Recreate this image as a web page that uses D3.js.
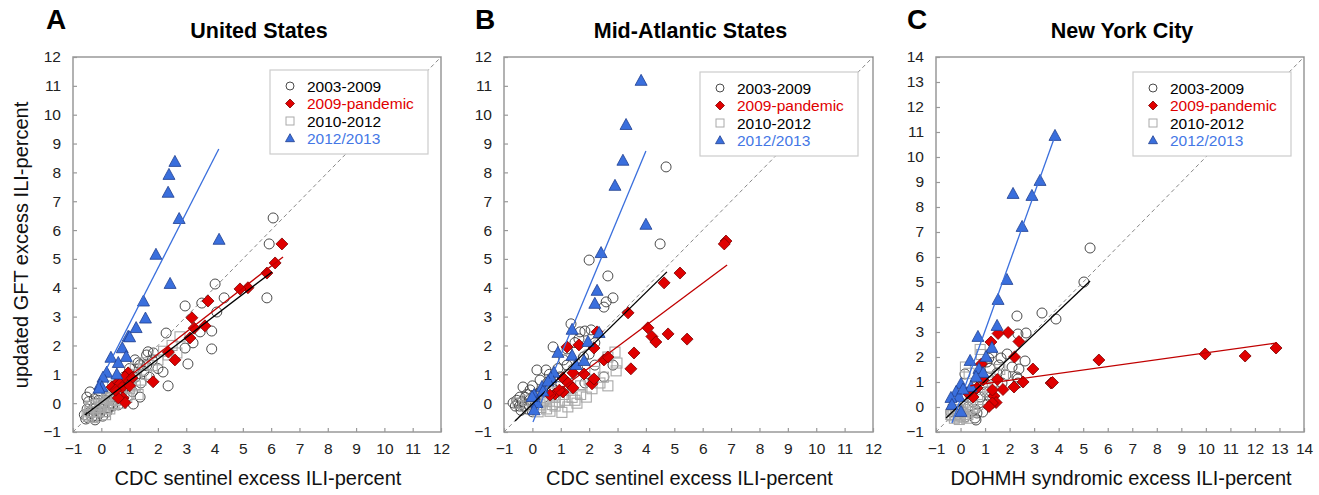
<!DOCTYPE html>
<html>
<head>
<meta charset="utf-8">
<script src="https://cdn.jsdelivr.net/npm/d3@7"></script>
<style>
  body { margin: 0; background: #fff; }
  svg text { font-family: Arial, "Liberation Sans", sans-serif; }
</style>
</head>
<body>
<svg id="chart" width="1319" height="495"></svg>
<script>
// Legendeneinträge
const seriesLabels = ["2003-2009", "2009-pandemic", "2010-2012", "2012/2013"];

// Panel A - United States
const usCircles = [[6.07,6.42],[5.93,5.52],[5.85,3.65],[4.02,4.13],[4.34,3.65],[4.08,3.16],[2.96,3.37],[3.55,3.47],[3.49,2.47],[3.9,2.5],[3.9,1.88],[3.24,2.09],[3.06,1.36],[2.96,1.91],[2.29,2.43],[2.36,0.6],[2.18,1.08],[1.6,1.67],[1.84,1.74],[1.65,1.78],[1.37,1.33],[1.19,1.5],[1.37,0.21],[1.13,-0.03],[0.6,-0.06],[-0.4,0.39],[-0.51,0.21],[-0.33,-0.48],[-0.22,-0.58],[-0.47,-0.51],[-0.05,-0.34],[1.3,1.4],[1.0,1.2],[0.8,0.9],[1.2,0.9],[1.5,1.1],[0.9,0.6],[1.4,0.7],[0.5,0.4],[0.7,0.3],[0.3,0.2],[0.1,0.0],[0.2,0.3],[-0.1,0.1],[0.0,-0.2],[-0.3,-0.2],[-0.2,0.0],[0.4,-0.1],[1.6,1.3],[1.8,1.5],[1.1,0.4],[-0.6,-0.4],[-0.4,-0.3],[0.2,-0.3],[0.6,0.7],[1.7,0.9],[2.0,1.2],[-0.5,-0.2],[-0.35,-0.35],[-0.15,-0.45],[0.05,-0.45],[-0.25,0.15],[0.15,0.1],[0.35,0.0],[-0.45,0.05],[0.25,-0.15],[-0.55,-0.55]];
const usDiamonds = [[6.38,5.52],[6.14,4.86],[5.85,4.51],[5.18,4.0],[4.9,3.96],[3.77,3.54],[3.2,2.96],[3.28,2.6],[3.66,2.68],[3.13,2.26],[2.37,1.77],[2.6,1.5],[1.83,0.74],[0.38,0.56],[0.6,0.73],[0.66,0.67],[0.95,1.05],[0.84,0.91],[1.08,0.87],[0.73,0.55],[0.77,0.18],[0.84,0.02],[0.6,0.18],[0.5,0.45],[1.0,0.6]];
const usSquares = [[2.78,2.3],[2.67,1.74],[2.36,1.67],[2.5,2.0],[1.6,1.0],[1.4,0.8],[1.2,0.6],[1.0,0.5],[0.8,0.4],[0.6,0.2],[0.4,0.1],[0.2,0.0],[0.0,-0.1],[-0.2,-0.2],[-0.4,-0.3],[-0.5,-0.4],[0.3,0.3],[0.5,0.5],[0.9,0.8],[1.1,1.0],[1.8,1.3],[2.0,1.5],[0.1,-0.3],[-0.3,-0.5],[0.7,0.0],[1.3,0.3],[-0.1,0.2],[1.5,1.4],[2.2,1.8],[0.9,0.2],[0.4,0.6],[0.6,0.7],[1.2,1.2],[-0.4,-0.1],[-0.3,-0.3],[-0.1,-0.3],[0.1,-0.1],[0.3,-0.2],[0.5,0.1],[0.2,0.15],[0.0,0.05],[-0.2,-0.05],[-0.45,-0.45],[0.45,-0.05],[0.7,0.35],[0.85,0.55],[1.05,0.75],[0.15,-0.4],[-0.05,-0.15],[0.35,0.2]];
const usTriangles = [[2.60,8.36],[2.39,7.91],[2.36,7.29],[2.75,6.38],[4.16,5.66],[1.93,5.14],[2.43,4.13],[1.49,3.52],[1.56,2.93],[1.23,2.6],[0.95,2.3],[1.0,2.28],[0.74,1.9],[0.88,1.6],[0.34,1.57],[0.6,1.39],[0.19,1.05],[0.55,0.99],[0.06,0.88],[-0.05,0.62],[0.02,0.55],[-0.08,0.5]];
const usFits = [
  [[-0.58,-0.41],[6.03,4.55]],   // 2003-2009 schwarz
  [[0.35,0.45],[6.42,5.07]],     // Pandemie rot
  [[-0.15,0.55],[4.15,8.81]]     // 2012/2013 blau
];

// Panel B - Mid-Atlantic States
const maCircles = [[4.71,8.19],[4.5,5.52],[2.0,4.96],[2.66,4.41],[2.84,3.65],[2.6,3.51],[2.52,3.33],[1.36,2.75],[1.68,2.47],[1.85,2.5],[2.07,2.54],[0.73,1.95],[1.64,2.23],[1.5,2.1],[2.2,2.09],[1.22,1.88],[0.48,1.15],[0.16,1.15],[-0.33,0.56],[-0.68,0.01],[2.2,1.32],[2.14,0.8],[2.52,0.91],[1.85,0.7],[2.84,1.32],[1.22,1.32],[0.97,0.91],[0.55,0.73],[0.27,0.8],[-0.08,0.46],[-0.44,0.21],[-0.2,0.3],[0.0,0.6],[0.3,0.4],[-0.5,0.0],[-0.3,-0.1],[-0.1,0.1],[0.1,-0.05],[0.4,0.2],[0.7,0.5],[1.0,0.7],[1.3,1.0],[1.6,1.2],[-0.6,-0.1],[-0.4,-0.25],[0.2,0.3],[0.9,1.2],[1.1,1.5],[0.6,1.0],[1.8,1.6],[2.0,1.7],[-0.2,-0.2],[0.0,-0.3],[-0.55,0.1],[-0.35,0.05],[-0.15,-0.05],[-0.25,0.2],[0.05,0.25],[-0.45,-0.1]];
const maDiamonds = [[6.82,5.62],[6.76,5.52],[5.2,4.51],[4.64,4.17],[3.37,3.13],[4.07,2.61],[4.21,2.31],[4.35,2.12],[4.78,2.4],[5.45,2.22],[3.58,1.74],[3.47,1.19],[1.22,1.95],[1.64,2.02],[2.17,1.91],[2.28,2.47],[2.52,1.5],[2.66,1.6],[1.82,1.01],[1.08,0.87],[1.43,1.05],[1.26,0.7],[1.43,0.53],[2.1,0.67],[2.17,0.84],[0.8,0.32],[0.62,0.28],[1.08,0.39],[0.95,0.45]];
const maSquares = [[2.91,1.77],[2.95,1.12],[2.98,1.39],[2.66,1.6],[2.66,0.6],[2.38,0.7],[2.5,0.9],[1.9,0.21],[1.57,0.0],[1.5,0.1],[1.25,-0.13],[1.04,-0.32],[0.62,-0.28],[0.27,-0.06],[0.0,0.0],[-0.3,-0.1],[-0.5,0.0],[0.4,0.1],[0.8,0.2],[1.1,0.3],[1.3,0.5],[1.7,0.6],[2.0,0.8],[2.2,1.1],[0.8,-0.1],[0.5,-0.2],[0.2,-0.3],[1.7,0.3],[2.1,0.5],[1.4,0.2],[0.9,0.4],[0.6,0.35],[-0.2,0.1],[0.1,0.2],[0.3,-0.15],[0.5,0.05],[0.7,-0.05],[0.95,0.05],[1.15,0.1],[0.15,0.05]];
const maTriangles = [[3.83,11.17],[3.3,9.64],[3.19,8.4],[2.91,7.53],[4.0,6.18],[2.42,5.2],[2.28,3.89],[2.2,3.44],[1.4,2.54],[2.35,2.43],[1.96,2.12],[0.9,1.74],[1.4,1.64],[1.54,1.32],[1.82,1.46],[0.76,1.05],[0.65,0.87],[0.34,0.56],[0.06,0.28],[0.16,0.0],[0.06,-0.25],[-0.01,0.21],[0.37,0.4],[0.55,0.75]];
const maFits = [
  [[-0.61,-0.62],[4.74,4.55]],
  [[0.62,0.21],[6.86,4.79]],
  [[0.02,-0.65],[4.0,8.74]]
];

// Panel C - New York City
const nycCircles = [[5.28,6.36],[5.03,5.0],[3.32,3.76],[3.89,3.52],[2.3,3.64],[2.34,2.92],[2.67,2.96],[1.9,2.12],[1.65,1.96],[2.63,1.84],[2.38,1.52],[1.85,1.28],[2.34,1.12],[0.63,-0.52],[0.67,-0.24],[0.18,1.32],[1.57,1.68],[2.1,1.6],[1.28,2.16],[1.15,1.95],[1.08,1.8],[1.2,1.55],[2.3,1.2],[2.34,0.96],[1.69,0.96],[1.49,1.36],[0.79,1.16],[0.59,-0.44],[1.0,0.6],[0.8,0.4],[0.5,0.2],[0.3,0.0],[0.1,-0.2],[-0.2,-0.1],[-0.4,-0.2],[0.4,0.5],[0.6,0.8],[0.9,0.9],[1.2,0.4],[1.1,0.1],[0.2,-0.4],[-0.1,-0.3],[0.6,-0.1],[0.9,-0.2],[1.3,0.9]];
const nycDiamonds = [[12.86,2.36],[11.6,2.04],[9.97,2.12],[5.64,1.88],[3.69,0.96],[3.75,0.98],[2.95,1.52],[2.55,1.0],[2.18,0.8],[2.38,2.62],[2.2,2.0],[1.94,2.98],[1.53,2.94],[1.24,2.6],[1.73,0.7],[1.5,1.1],[1.36,0.44],[1.45,0.18],[1.3,0.16],[1.16,0.02],[0.85,1.72],[0.92,1.08],[0.67,0.76],[1.3,0.68],[0.51,0.4],[0.3,0.56]];
const nycSquares = [[0.8,2.3],[0.85,2.1],[0.2,1.6],[0.35,1.35],[1.6,1.5],[1.75,1.3],[1.3,1.0],[1.0,0.8],[0.7,0.5],[0.4,0.3],[0.2,0.1],[0.0,-0.1],[-0.2,-0.3],[-0.4,-0.3],[-0.1,-0.4],[0.1,-0.4],[0.3,-0.3],[0.5,-0.2],[0.7,0.1],[0.9,0.3],[1.2,0.6],[0.0,-0.35],[-0.3,-0.1],[0.5,0.0],[1.5,0.9],[1.1,1.2],[-0.25,-0.45],[-0.05,-0.5],[0.15,-0.3],[0.35,-0.1],[-0.35,-0.35],[0.05,-0.2],[0.25,-0.45]];
const nycTriangles = [[3.85,10.84],[3.24,9.04],[2.91,8.44],[2.14,8.52],[2.51,7.2],[1.89,5.08],[1.53,4.28],[1.49,3.24],[1.28,2.36],[0.71,2.8],[1.04,2.0],[0.39,1.84],[0.75,1.52],[0.92,1.36],[0.63,1.2],[0.02,0.92],[0.43,0.8],[-0.18,0.6],[-0.06,0.4],[-0.39,0.36],[-0.35,0.08],[0.02,-0.2],[0.1,0.7]];
const nycFits = [
  [[-0.59,-0.44],[5.28,5.04]],
  [[0.4,0.85],[12.9,2.56]],
  [[-0.35,-0.64],[3.85,10.84]]
];

const ticks12 = d3.range(-1, 13);
const ticks14 = d3.range(-1, 15);

const colBlack = "#000", colRed = "#e00000", colBlue = "#3a6fdd";
const fitColors = ["#000", "#c00000", "#3a6fdd"];
const legendColors = [colBlack, colRed, colBlack, "#4477e6"];

const svg = d3.select("#chart");

const panels = [
  { letter: "A", title: "United States", xLabel: "CDC sentinel excess ILI-percent",
    left: 73, right: 441, letterX: 46, ticks: ticks12, yLabel: true,
    circles: usCircles, diamonds: usDiamonds, squares: usSquares, triangles: usTriangles, fits: usFits,
    legendX: 270, legendY: 70 },
  { letter: "B", title: "Mid-Atlantic States", xLabel: "CDC sentinel excess ILI-percent",
    left: 504, right: 873, letterX: 475, ticks: ticks12, yLabel: false,
    circles: maCircles, diamonds: maDiamonds, squares: maSquares, triangles: maTriangles, fits: maFits,
    legendX: 700, legendY: 72 },
  { letter: "C", title: "New York City", xLabel: "DOHMH syndromic excess ILI-percent",
    left: 936, right: 1304, letterX: 907, ticks: ticks14, yLabel: false,
    circles: nycCircles, diamonds: nycDiamonds, squares: nycSquares, triangles: nycTriangles, fits: nycFits,
    legendX: 1133, legendY: 72 }
];

const plotTop = 57, plotBottom = 432;

function diamondPath(r) {
  return `M0,${-r}L${r},0L0,${r}L${-r},0Z`;
}
function trianglePath(w, h) {
  return `M0,${-h * 0.6}L${w / 2},${h * 0.4}L${-w / 2},${h * 0.4}Z`;
}

panels.forEach(p => {
  const dom = [p.ticks[0], p.ticks[p.ticks.length - 1]];
  const x = d3.scaleLinear().domain(dom).range([p.left, p.right]);
  const y = d3.scaleLinear().domain(dom).range([plotBottom, plotTop]);
  const g = svg.append("g");
  const midX = (p.left + p.right) / 2;

  // Buchstabe und Titel
  g.append("text").attr("x", p.letterX).attr("y", 29)
    .attr("font-size", 28).attr("font-weight", "bold").text(p.letter);
  g.append("text").attr("x", midX + 2).attr("y", 38).attr("text-anchor", "middle")
    .attr("font-size", 21.5).attr("font-weight", "bold").text(p.title);

  // Rahmen
  g.append("rect").attr("x", p.left).attr("y", plotTop)
    .attr("width", p.right - p.left).attr("height", plotBottom - plotTop)
    .attr("fill", "none").attr("stroke", "#999").attr("stroke-width", 1.5);

  // Achsen mit Ticks nach innen
  const xAxis = d3.axisBottom(x).tickValues(p.ticks).tickSize(-4).tickPadding(11);
  const yAxis = d3.axisLeft(y).tickValues(p.ticks).tickSize(-4).tickPadding(12);
  g.append("g").attr("transform", `translate(0,${plotBottom})`).call(xAxis)
    .call(a => a.select(".domain").remove());
  g.append("g").attr("transform", `translate(${p.left},0)`).call(yAxis)
    .call(a => a.select(".domain").remove());
  g.selectAll(".tick line").attr("stroke", "#999").attr("stroke-width", 1.2);
  g.selectAll(".tick text").attr("font-size", 15.5).attr("fill", "#222")
    .attr("font-family", "Arial, 'Liberation Sans', sans-serif");

  // Achsentitel
  g.append("text").attr("x", midX + 1).attr("y", 485).attr("text-anchor", "middle")
    .attr("font-size", 20).attr("fill", "#111").text(p.xLabel);
  if (p.yLabel) {
    g.append("text").attr("transform", `translate(28,245) rotate(-90)`)
      .attr("text-anchor", "middle").attr("font-size", 20).attr("fill", "#111")
      .text("updated GFT excess ILI-percent");
  }

  // Diagonale y = x
  g.append("line").attr("x1", x(dom[0])).attr("y1", y(dom[0]))
    .attr("x2", x(dom[1])).attr("y2", y(dom[1]))
    .attr("stroke", "#888").attr("stroke-width", 1).attr("stroke-dasharray", "4,3");

  // Punkte
  g.append("g").selectAll("circle").data(p.circles).join("circle")
    .attr("cx", d => x(d[0])).attr("cy", d => y(d[1])).attr("r", 5)
    .attr("fill", "none").attr("stroke", "#4a4a4a").attr("stroke-width", 1);
  g.append("g").selectAll("rect").data(p.squares).join("rect")
    .attr("x", d => x(d[0]) - 5).attr("y", d => y(d[1]) - 5)
    .attr("width", 10).attr("height", 10)
    .attr("fill", "none").attr("stroke", "#a8a8a8").attr("stroke-width", 1.1);
  g.append("g").selectAll("path").data(p.diamonds).join("path")
    .attr("transform", d => `translate(${x(d[0])},${y(d[1])})`)
    .attr("d", diamondPath(6))
    .attr("fill", colRed).attr("stroke", "#7a0000").attr("stroke-width", 0.8);
  g.append("g").selectAll("path").data(p.triangles).join("path")
    .attr("transform", d => `translate(${x(d[0])},${y(d[1])})`)
    .attr("d", trianglePath(12, 11))
    .attr("fill", colBlue).attr("stroke", "#1f3f8f").attr("stroke-width", 0.8);

  // Regressionsgeraden
  g.append("g").selectAll("line").data(p.fits).join("line")
    .attr("x1", d => x(d[0][0])).attr("y1", d => y(d[0][1]))
    .attr("x2", d => x(d[1][0])).attr("y2", d => y(d[1][1]))
    .attr("stroke", (d, i) => fitColors[i]).attr("stroke-width", 1.3);

  // Legende
  const lg = g.append("g").attr("transform", `translate(${p.legendX},${p.legendY})`);
  lg.append("rect").attr("width", 158).attr("height", 84)
    .attr("fill", "#fff").attr("stroke", "#ccc").attr("stroke-width", 1.2);
  const rows = [16, 33.5, 51, 68.5];
  seriesLabels.forEach((lab, i) => {
    const sy = rows[i];
    const sx = 20;
    if (i === 0) {
      lg.append("circle").attr("cx", sx).attr("cy", sy).attr("r", 4)
        .attr("fill", "none").attr("stroke", "#4a4a4a");
    } else if (i === 1) {
      lg.append("path").attr("transform", `translate(${sx},${sy})`).attr("d", diamondPath(4.5))
        .attr("fill", colRed).attr("stroke", "#7a0000").attr("stroke-width", 0.8);
    } else if (i === 2) {
      lg.append("rect").attr("x", sx - 4).attr("y", sy - 4).attr("width", 8).attr("height", 8)
        .attr("fill", "none").attr("stroke", "#aaa");
    } else {
      lg.append("path").attr("transform", `translate(${sx},${sy})`).attr("d", trianglePath(9, 8))
        .attr("fill", colBlue).attr("stroke", "#1f3f8f").attr("stroke-width", 0.8);
    }
    lg.append("text").attr("x", 37).attr("y", sy + 5.5).attr("font-size", 15.5)
      .attr("fill", legendColors[i]).text(lab);
  });
});
</script>
</body>
</html>
